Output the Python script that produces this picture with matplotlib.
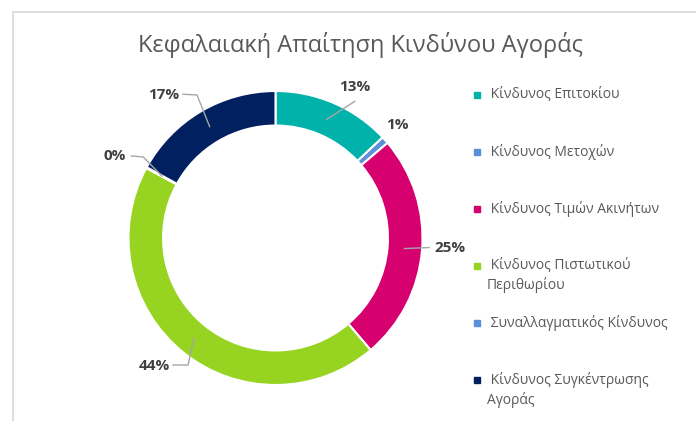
import numpy as np
import matplotlib.pyplot as plt
from matplotlib.patches import Rectangle
from matplotlib.lines import Line2D

title = 'Κεφαλαιακή Απαίτηση Κινδύνου Αγοράς'
categories = ['Κίνδυνος Επιτοκίου', 'Κίνδυνος Μετοχών', 'Κίνδυνος Τιμών Ακινήτων',
              'Κίνδυνος Πιστωτικού\nΠεριθωρίου', 'Συναλλαγματικός Κίνδυνος',
              'Κίνδυνος Συγκέντρωσης\nΑγοράς']
values = [13.0, 0.8, 25.0, 44.1, 0.1, 17.0]
colors = ['#00B2A9', '#5B8FD9', '#D6006E', '#97D321', '#5B8FD9', '#002060']

# label placement (text x, y, ha) and leader elbow points, in radius units
label_layout = [
    ((0.54, 1.03), 'center', [(0.54, 0.93)]),
    ((0.83, 0.77), 'center', []),
    ((1.08, -0.07), 'left', [(1.045, -0.065)]),
    ((-0.715, -0.87), 'right', [(-0.595, -0.864), (-0.697, -0.864)]),
    ((-1.015, 0.56), 'right', [(-0.90, 0.551), (-0.98, 0.558)]),
    ((-0.655, 0.975), 'right', [(-0.534, 0.973), (-0.629, 0.978)]),
]

plt.rcParams['font.family'] = ['Open Sans', 'DejaVu Sans']

W, H = 696, 421
fig = plt.figure(figsize=(W / 100, H / 100), dpi=100)

# chart frame (left and top edges only visible)
fig.add_artist(Line2D([13 / W, 13 / W], [0, 1 - 12 / H], color='#D9D9D9', lw=1.2))
fig.add_artist(Line2D([13 / W, 1], [1 - 12 / H, 1 - 12 / H], color='#D9D9D9', lw=1.2))

R = 147.0
cx, cy = 275.5, 238.0
span = 1.4
ax = fig.add_axes([(cx - span * R) / W, (H - cy - span * R) / H,
                   2 * span * R / W, 2 * span * R / H])

wedges, _ = ax.pie(values, colors=colors, startangle=90, counterclock=False,
                   radius=1.0, wedgeprops=dict(width=0.235, edgecolor='white', linewidth=1.5))
ax.set_xlim(-span, span)
ax.set_ylim(-span, span)
ax.set_aspect('equal')
ax.axis('off')

total = sum(values)
for w, v, (tpos, ha, elbows) in zip(wedges, values, label_layout):
    mid = np.deg2rad((w.theta1 + w.theta2) / 2)
    start = (0.88 * np.cos(mid), 0.88 * np.sin(mid))
    if elbows:
        pts = [start] + elbows
        ax.plot([p[0] for p in pts], [p[1] for p in pts], color='#A6A6A6', lw=1.0)
    ax.text(tpos[0], tpos[1], f'{round(v / total * 100):.0f}%', ha=ha, va='center',
            fontsize=11, fontweight='bold', color='#404040')

fig.text(360 / W, 1 - 45 / H, title, ha='center', va='center', fontsize=17, color='#595959')

# legend
for i, (lab, col) in enumerate(zip(categories, colors)):
    y = 95 + i * 57
    fig.add_artist(Rectangle((474 / W, 1 - (y + 3) / H), 6 / W, 6 / H, color=col,
                             transform=fig.transFigure))
    fig.text(487 / W, 1 - (y - 8) / H, ' ' + lab, ha='left', va='top',
             fontsize=10, color='#595959', linespacing=1.3)

fig.savefig('out.png', dpi=100)
